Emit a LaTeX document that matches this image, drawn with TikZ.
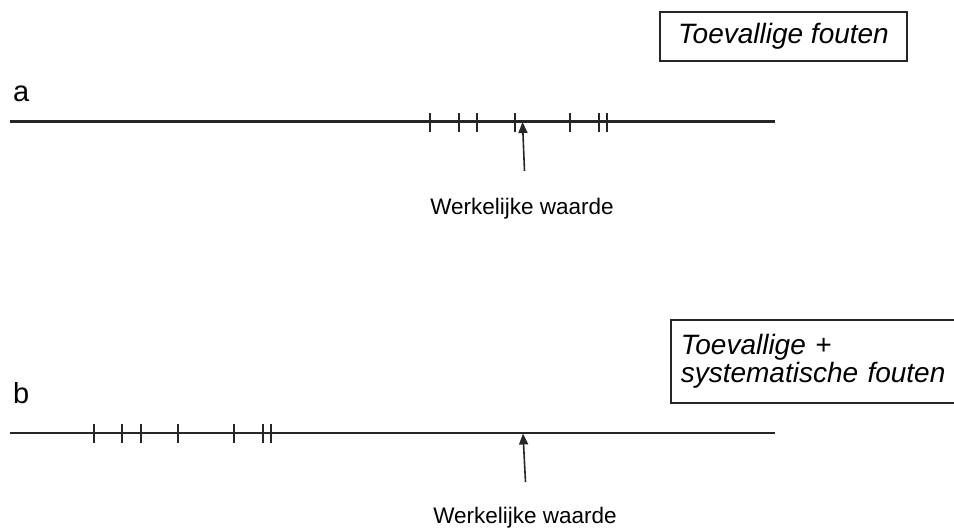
\documentclass[tikz,border=0pt]{standalone}
\usepackage{fontspec}
\setmainfont{Liberation Sans}
\usetikzlibrary{arrows.meta}
\begin{document}
\begin{tikzpicture}[x=1pt,y=-1pt,
  axisline/.style={line width=2.1pt, color=black!85},
  tickmark/.style={line width=2.1pt, color=black!85},
  ptr/.style={line width=1.6pt, color=black!85, -{Triangle[width=9pt,length=11pt]}},
  lbl/.style={font=\fontsize{29}{33}\selectfont, inner sep=0pt, anchor=base west},
  wval/.style={font=\fontsize{22.5}{26}\selectfont, inner sep=0pt, anchor=base},
  errbox/.style={draw, line width=1.6pt, color=black!85, text=black, font=\fontsize{28}{28}\selectfont\itshape, inner sep=0pt}
]
\useasboundingbox (0,0) rectangle (954,528);

% panel a
\node[lbl] (la) at (13,101) {a};
\coordinate (a1) at (10,121.5);
\coordinate (a2) at (775,121.5);
\draw[axisline] (a1) -- (a2);
\foreach \x in {430,459,477,515,570,599,607}
  \draw[tickmark] (\x,113) -- (\x,132);
\coordinate (atip) at (522.5,122);
\coordinate (atail) at (524.5,171);
\draw[ptr] (atail) -- (atip);
\node[wval] (wa) at (522,214) {Werkelijke waarde};
\node[errbox, minimum width=247pt, minimum height=49pt] (ba) at (783.5,36.5) {Toevallige fouten};

% panel b
\node[lbl] (lb) at (13,403) {b};
\coordinate (b1) at (10,433);
\coordinate (b2) at (775,433);
\draw[axisline] (b1) -- (b2);
\foreach \x in {94,122,141,178,234,263,271}
  \draw[tickmark] (\x,424) -- (\x,443);
\coordinate (btip) at (523,433.5);
\coordinate (btail) at (525.5,482);
\draw[ptr] (btail) -- (btip);
\node[wval] (wb) at (525,523.5) {Werkelijke waarde};
\node[errbox, anchor=north west, minimum width=300pt, minimum height=83pt,
      text width=280pt, align=left, inner xsep=10pt] (bb) at (670,319)
      {Toevallige +\\systematische fouten};
\end{tikzpicture}
\end{document}
